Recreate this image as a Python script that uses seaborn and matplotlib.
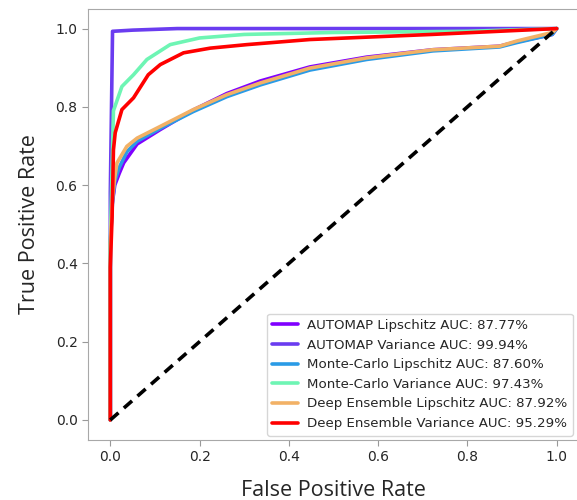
import numpy as np
import pandas as pd
import seaborn as sns
import matplotlib
matplotlib.use("Agg")
import matplotlib.pyplot as plt

# ROC curve points (FPR, TPR)
automap_lip_fpr = [0.0, 0.0, 0.004, 0.01, 0.02, 0.03, 0.06, 0.112, 0.186, 0.261, 0.336, 0.447, 0.574, 0.723, 0.872, 0.91, 0.99, 1.0]
automap_lip_tpr = [0.0, 0.45, 0.55, 0.6, 0.63, 0.657, 0.705, 0.742, 0.792, 0.834, 0.866, 0.902, 0.927, 0.946, 0.955, 0.966, 0.985, 1.0]

automap_var_fpr = [0.0, 0.0, 0.005, 0.05, 0.15, 0.5, 1.0]
automap_var_tpr = [0.0, 0.58, 0.993, 0.996, 1.0, 1.0, 1.0]

mc_lip_fpr = [0.0, 0.0, 0.005, 0.01, 0.02, 0.037, 0.06, 0.112, 0.186, 0.261, 0.336, 0.447, 0.574, 0.723, 0.872, 0.91, 0.99, 1.0]
mc_lip_tpr = [0.0, 0.45, 0.56, 0.61, 0.645, 0.685, 0.712, 0.745, 0.788, 0.826, 0.856, 0.894, 0.921, 0.943, 0.953, 0.964, 0.985, 1.0]

mc_var_fpr = [0.0, 0.0, 0.003, 0.007, 0.026, 0.052, 0.082, 0.134, 0.2, 0.3, 0.5, 0.8, 1.0]
mc_var_tpr = [0.0, 0.45, 0.6, 0.79, 0.852, 0.882, 0.921, 0.959, 0.976, 0.985, 0.99, 0.993, 1.0]

de_lip_fpr = [0.0, 0.0, 0.005, 0.01, 0.015, 0.037, 0.06, 0.112, 0.186, 0.261, 0.336, 0.447, 0.574, 0.723, 0.872, 0.91, 0.99, 1.0]
de_lip_tpr = [0.0, 0.45, 0.57, 0.62, 0.657, 0.699, 0.72, 0.75, 0.793, 0.831, 0.861, 0.899, 0.925, 0.946, 0.955, 0.968, 0.99, 1.0]

de_var_fpr = [0.0, 0.0, 0.004, 0.007, 0.011, 0.026, 0.052, 0.085, 0.112, 0.164, 0.224, 0.306, 0.447, 0.72, 1.0]
de_var_tpr = [0.0, 0.39, 0.52, 0.69, 0.734, 0.793, 0.823, 0.882, 0.908, 0.938, 0.95, 0.959, 0.972, 0.985, 1.0]

labels = ["AUTOMAP Lipschitz AUC: 87.77%", "AUTOMAP Variance AUC: 99.94%",
          "Monte-Carlo Lipschitz AUC: 87.60%", "Monte-Carlo Variance AUC: 97.43%",
          "Deep Ensemble Lipschitz AUC: 87.92%", "Deep Ensemble Variance AUC: 95.29%"]
colors = ["#8000ff", "#6a3cf0", "#2a9be6", "#6ef5b4", "#f2b166", "#ff0000"]

curves = [(automap_lip_fpr, automap_lip_tpr), (automap_var_fpr, automap_var_tpr),
          (mc_lip_fpr, mc_lip_tpr), (mc_var_fpr, mc_var_tpr),
          (de_lip_fpr, de_lip_tpr), (de_var_fpr, de_var_tpr)]

sns.set_style("white")
plt.rcParams['font.family'] = ['DejaVu Sans']

fig = plt.figure(figsize=(5.77, 5.0), dpi=100)
ax = fig.add_axes([0.1525, 0.121, 0.87, 0.861])

for (fpr, tpr), lab, col in zip(curves, labels, colors):
    df = pd.DataFrame({"fpr": fpr, "tpr": tpr})
    sns.lineplot(data=df, x="fpr", y="tpr", sort=False, estimator=None,
                 color=col, linewidth=2.6, label=lab, ax=ax)

ax.plot([0, 1], [0, 1], color="black", linestyle="--", linewidth=2.6, dashes=(3, 2))

# keep 0..1 at the same pixel spots while the axes box runs past the right edge
ax.set_xlim(-0.05, -0.05 + 1.1 * 0.87 / 0.851)
ax.set_ylim(-0.05, 1.05)
ax.set_xticks(np.arange(0, 1.01, 0.2))
ax.set_yticks(np.arange(0, 1.01, 0.2))
ax.tick_params(labelsize=10, length=4, color="#999999", left=True, bottom=True)
for s in ax.spines.values():
    s.set_color("#a8a8a8")
ax.set_xlabel("False Positive Rate", fontsize=15.5, family="Open Sans", labelpad=8)
ax.set_ylabel("True Positive Rate", fontsize=15.5, family="Open Sans", labelpad=11)
ax.xaxis.set_label_coords(0.5 * 0.851 / 0.87 + 0.0, -0.095)

leg = ax.legend(loc="lower right", fontsize=9.6, frameon=True, handlelength=1.9,
                handletextpad=0.7, borderaxespad=0.3, labelspacing=0.5,
                bbox_to_anchor=(0.851 / 0.87 * 1.0 - 0.005, 0.0))
leg.get_frame().set_edgecolor("#cccccc")
for line in leg.get_lines():
    line.set_linewidth(2.6)

fig.savefig("out.png", dpi=100)
